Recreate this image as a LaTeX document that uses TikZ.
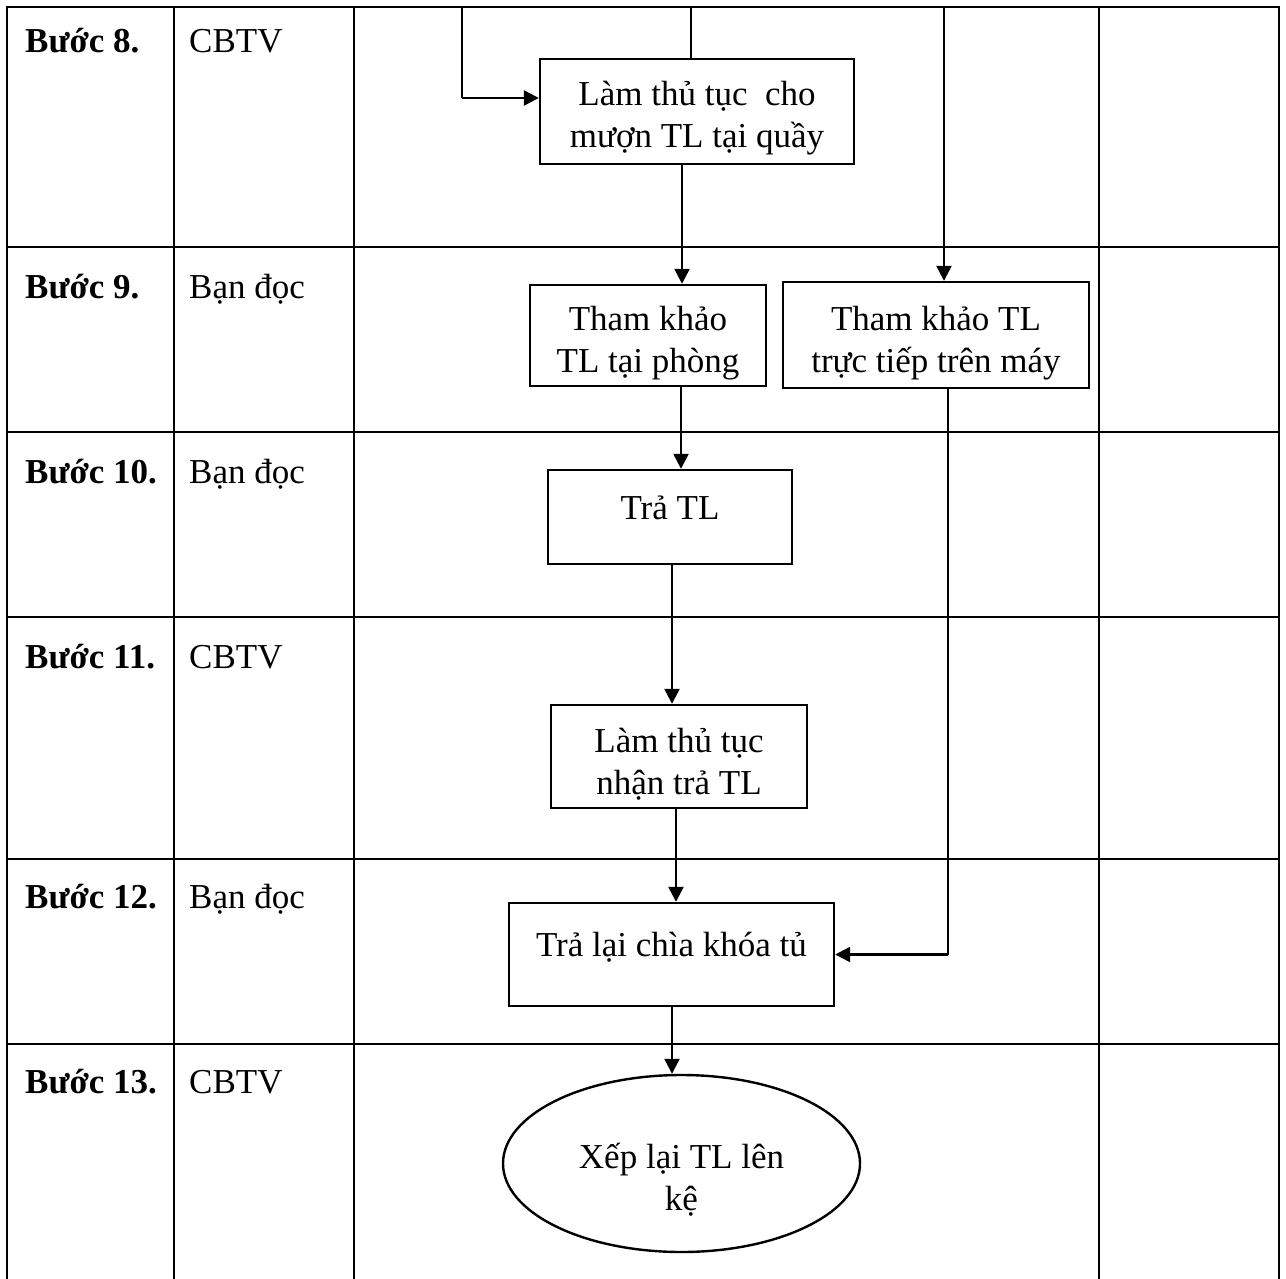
\documentclass[tikz,border=0pt]{standalone}
\usepackage{fontspec}
\setmainfont{Liberation Serif}
\usetikzlibrary{arrows.meta,shapes.geometric}
\newcommand{\lowtext}[1]{\rule{0pt}{#1pt}}

\begin{document}
\begin{tikzpicture}[
  x=1pt, y=-1pt,
  font=\fontsize{35}{42}\selectfont,
  >={Triangle[length=15pt,width=15pt]},
  tabline/.style={line width=2.8pt, line cap=rect},
  box/.style={draw, line width=2.4pt, inner sep=0pt, align=center},
  arr/.style={->, line width=2.4pt},
  feed/.style={line width=1.4pt},
]
\useasboundingbox (0,0) rectangle (1286,1278);

% ---------- table ----------
\foreach \x in {7,174,354,1099,1279} {
  \draw[tabline] (\x,7) -- (\x,1278);
}
\foreach \y in {7,247,432,617,859,1044} {
  \draw[tabline] (7,\y) -- (1279,\y);
}
\foreach \y/\n/\who in {52/8/CBTV, 298/9/Bạn đọc, 483/10/Bạn đọc, 668/11/CBTV, 908/12/Bạn đọc, 1093/13/CBTV} {
  \node[anchor=base west, inner sep=0pt] (lab\n) at (25,\y) {\textbf{Bước \n.}};
  \node[anchor=base west, inner sep=0pt] (who\n) at (189,\y) {\who};
}

% ---------- boxes ----------
\node[box, minimum width=314pt, minimum height=105pt] (muon) at (697,111.5) {\lowtext{38}Làm thủ tục\ \ cho\\mượn TL tại quầy};
\node[box, minimum width=236pt, minimum height=101pt] (phong) at (648,335.5) {\lowtext{40}Tham khảo\\TL tại phòng};
\node[box, minimum width=306pt, minimum height=106pt] (may) at (936,335) {\lowtext{40}Tham khảo TL\\trực tiếp trên máy};
\node[box, minimum width=244pt, minimum height=94pt, text depth=18pt] (tra) at (670,517) {Trả TL};
\node[box, minimum width=256pt, minimum height=103pt] (nhan) at (679,756.5) {\lowtext{40}Làm thủ tục\\nhận trả TL};
\node[box, minimum width=325pt, minimum height=103pt, text depth=20pt] (chia) at (671.5,954.5) {Trả lại chìa khóa tủ};
\node[box, ellipse, minimum width=357pt, minimum height=177pt] (xep) at (681.5,1163.5) {\lowtext{58}Xếp lại TL lên\\kệ};

% ---------- connectors ----------
\coordinate (inL) at (462,7);
\coordinate (kneeL) at (462,98);
\coordinate (inT) at (691,7);
\coordinate (inR) at (944,7);
\coordinate (t1) at (682,0);
\coordinate (t2) at (681,0);
\coordinate (t3) at (672,0);
\coordinate (t4) at (676,0);
\coordinate (t5) at (672,0);
\coordinate (t6) at (948,0);

\draw[feed] (inL) -- (kneeL);
\draw[arr] (kneeL) -- (kneeL -| muon.west);
\draw[feed] (inT) -- (inT |- muon.north);
\draw[arr] (inR) -- (inR |- may.north);
\draw[arr] (t1 |- muon.south) -- (t1 |- phong.north);
\draw[arr] (t2 |- phong.south) -- (t2 |- tra.north);
\draw[arr] (t3 |- tra.south) -- (t3 |- nhan.north);
\draw[arr] (t4 |- nhan.south) -- (t4 |- chia.north);
\draw[arr] (t5 |- chia.south) -- (t5 |- xep.north);
\draw[feed] (t6 |- may.south) -- (t6 |- chia.east);
\draw[arr] (t6 |- chia.east) -- (chia.east);
\end{tikzpicture}
\end{document}
